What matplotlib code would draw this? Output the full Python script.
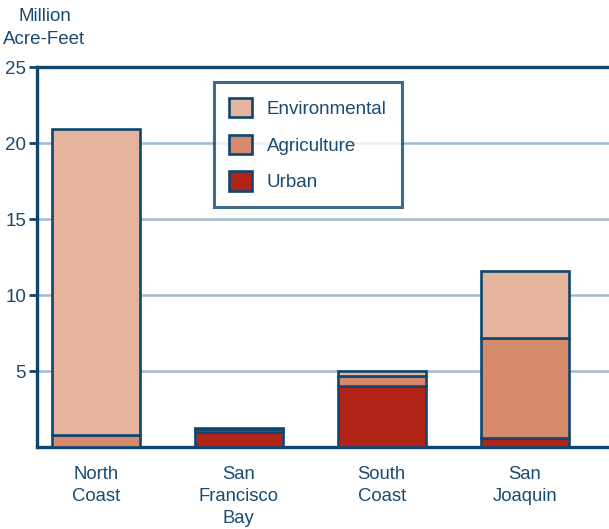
import numpy as np
import matplotlib.pyplot as plt

regions = ["North\nCoast", "San\nFrancisco\nBay", "South\nCoast", "San\nJoaquin"]
urban = [0.0, 1.0, 4.0, 0.6]
agriculture = [0.8, 0.2, 0.7, 6.6]
environmental = [20.1, 0.05, 0.3, 4.4]

dark = "#0e4670"
text_c = "#1b4a70"
colors = {"Environmental": "#e6b39d", "Agriculture": "#d6896b", "Urban": "#b22418"}

plt.rcParams["font.family"] = ["Liberation Sans", "DejaVu Sans"]

fig = plt.figure(figsize=(6.09, 5.29), dpi=100)
ax = fig.add_axes([0.061, 0.155, 0.939, 0.718])

x = np.arange(len(regions))
w = 0.615
u = np.array(urban)
a = np.array(agriculture)
e = np.array(environmental)
kw = dict(width=w, edgecolor=dark, linewidth=1.9, zorder=3)
b1 = ax.bar(x, u, color=colors["Urban"], label="Urban", **kw)
b2 = ax.bar(x, a, bottom=u, color=colors["Agriculture"], label="Agriculture", **kw)
b3 = ax.bar(x, e, bottom=u + a, color=colors["Environmental"], label="Environmental", **kw)

ax.set_xlim(-0.41, 3.59)
ax.set_ylim(0, 25)
ax.set_yticks([5, 10, 15, 20, 25])
ax.grid(axis="y", color="#a3b9cc", linewidth=1.8, zorder=0)
ax.set_axisbelow(True)
ax.set_xticks(x)
ax.set_xticklabels(regions, fontsize=13.3, color=text_c, linespacing=1.38, va="top")
ax.tick_params(axis="x", length=0, pad=14)
ax.tick_params(axis="y", length=6, width=2, color=dark, labelsize=13.5, labelcolor=text_c, pad=2)
for s in ["left", "bottom", "top"]:
    ax.spines[s].set_color(dark)
    ax.spines[s].set_linewidth(2.4)
ax.spines["right"].set_visible(False)

leg = ax.legend(handles=[b3, b2, b1], loc="upper left", bbox_to_anchor=(0.309, 0.96),
                borderaxespad=0, fontsize=13.5, frameon=True, fancybox=False,
                handlelength=1.2, handleheight=1.2, labelspacing=0.9,
                borderpad=0.82, handletextpad=0.8)
leg.get_frame().set_edgecolor(dark)
leg.get_frame().set_linewidth(2.2)
for t in leg.get_texts():
    t.set_color(text_c)

fig.text(0.073, 0.984, "Million\nAcre-Feet", ha="center", va="top", fontsize=13.5,
         color=text_c, linespacing=1.4)

fig.savefig("out.png", dpi=100)
